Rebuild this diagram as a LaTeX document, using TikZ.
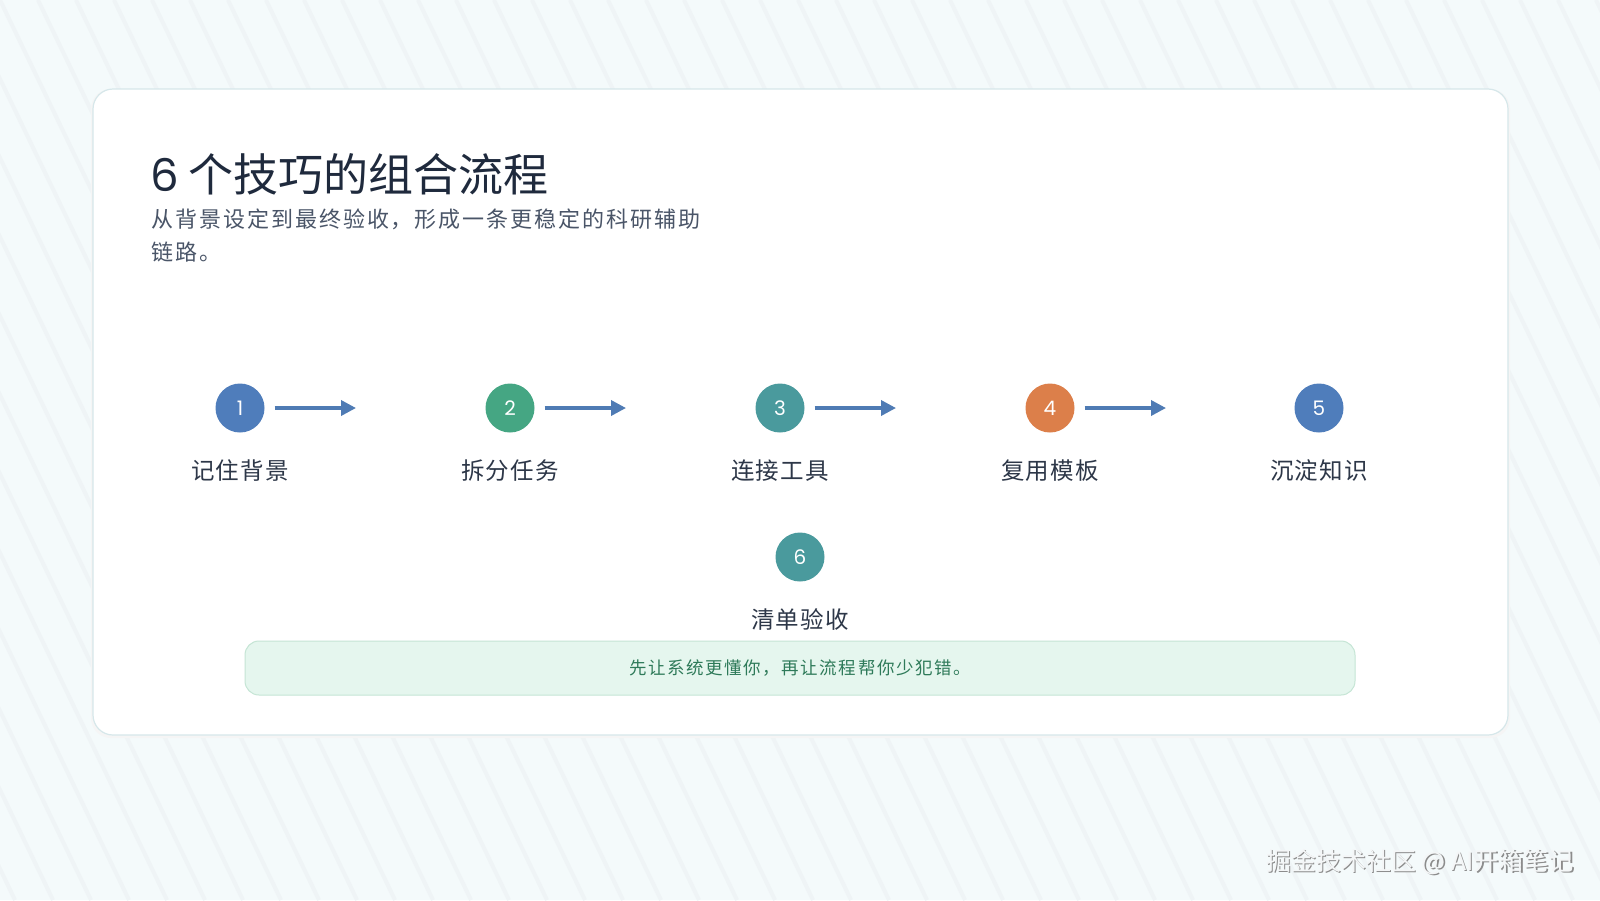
\documentclass[tikz,border=0pt]{standalone}
\usepackage{fontspec}
\setmainfont{Noto Sans CJK SC}
\newfontfamily\numfont{Poppins}
\usetikzlibrary{arrows.meta}
\definecolor{bgc}{HTML}{F4FAFB}
\definecolor{stripec}{HTML}{EFF4F6}
\definecolor{cardline}{HTML}{D6E7EA}
\definecolor{titlec}{HTML}{1F2A3D}
\definecolor{subc}{HTML}{4A5568}
\definecolor{labc}{HTML}{2D3748}
\definecolor{cblue}{HTML}{4F7DBB}
\definecolor{cgreen}{HTML}{45A683}
\definecolor{cteal}{HTML}{4A9A9D}
\definecolor{corange}{HTML}{DC7F4A}
\definecolor{arrc}{HTML}{4F7BB4}
\definecolor{bandfill}{HTML}{E5F6EE}
\definecolor{bandline}{HTML}{C5E5D5}
\definecolor{bandtext}{HTML}{2E7A59}
\definecolor{wmc}{HTML}{F4F6F7}
\tikzset{
  stripe/.style={draw=stripec,line width=4pt},
  stepcirc/.style={circle,minimum size=49pt,inner sep=0pt,text=white,font=\numfont\fontsize{20}{20}\selectfont},
  steplab/.style={text=labc,inner sep=0pt,font=\fontsize{23.5}{26}\selectfont\addfontfeatures{LetterSpace=5}},
  arr/.style={draw=arrc,line width=3.5pt,-{Triangle[length=15pt,width=15pt]}},
}
\begin{document}
\begin{tikzpicture}[x=1pt,y=-1pt]
\useasboundingbox (0,0) rectangle (1600,900);
\fill[bgc] (0,0) rectangle (1600,900);
\begin{scope}
\clip (0,0) rectangle (1600,900);
\foreach \i in {-456,-418,...,1600} \draw[stripe] (\i,0) -- (\i+433,900);
\end{scope}
% card
\fill[black!4,rounded corners=20pt] (91,89) rectangle (1510,738);
\fill[white,draw=cardline,line width=1.2pt,rounded corners=20pt] (93,89) rectangle (1508,735);
% title
\node[anchor=west,inner sep=0pt,text=titlec,font=\fontsize{45}{52}\selectfont] (title) at (150,174) {{\numfont 6} 个技巧的组合流程};
\node[anchor=north west,inner sep=0pt,text=subc,align=left,font=\fontsize{22}{33}\selectfont\addfontfeatures{LetterSpace=9}] (sub) at (151,209) {从背景设定到最终验收，形成一条更稳定的科研辅助\\链路。};
% steps
\node[stepcirc,fill=cblue] (c1) at (240,408) {1};
\node[stepcirc,fill=cgreen] (c2) at (510,408) {2};
\node[stepcirc,fill=cteal] (c3) at (780,408) {3};
\node[stepcirc,fill=corange] (c4) at (1050,408) {4};
\node[stepcirc,fill=cblue] (c5) at (1319,408) {5};
\node[stepcirc,fill=cteal] (c6) at (800,557) {6};
\node[steplab] (l1) at (240,471) {记住背景};
\node[steplab] (l2) at (510,471) {拆分任务};
\node[steplab] (l3) at (780,471) {连接工具};
\node[steplab] (l4) at (1050,471) {复用模板};
\node[steplab] (l5) at (1319,471) {沉淀知识};
\node[steplab] (l6) at (800,619) {清单验收};
\coordinate (a1) at (356,408);
\coordinate (a2) at (626,408);
\coordinate (a3) at (896,408);
\coordinate (a4) at (1166,408);
\draw[arr] ([xshift=10pt]c1.east) -- (a1);
\draw[arr] ([xshift=10pt]c2.east) -- (a2);
\draw[arr] ([xshift=10pt]c3.east) -- (a3);
\draw[arr] ([xshift=10pt]c4.east) -- (a4);
% band
\draw[fill=bandfill,draw=bandline,line width=1pt,rounded corners=14pt] (245,641) rectangle (1355,695);
\node[text=bandtext,inner sep=0pt,font=\fontsize{17.5}{20}\selectfont\addfontfeatures{LetterSpace=9}] (band) at (800,668) {先让系统更懂你，再让流程帮你少犯错。};
% watermark
\node[text=black!45,inner sep=0pt,font=\fontsize{25}{27}\selectfont] at (1421.5,863.5) {掘金技术社区 @ AI开箱笔记};
\node[text=wmc,inner sep=0pt,font=\fontsize{25}{27}\selectfont] (wm) at (1420,862) {掘金技术社区 @ AI开箱笔记};
\end{tikzpicture}
\end{document}
